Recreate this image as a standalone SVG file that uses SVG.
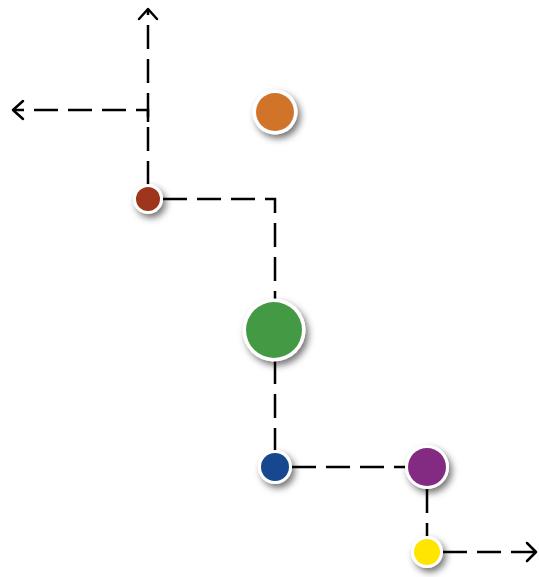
<svg xmlns="http://www.w3.org/2000/svg" width="539" height="577" viewBox="0 0 539 577">
<style>
.c{fill:none;stroke:#000;stroke-width:2.5;stroke-dasharray:24 10}
.a{fill:none;stroke:#000;stroke-width:2.5;stroke-linecap:round;stroke-linejoin:round}
.ring{fill:#fff;filter:url(#sh)}
</style>
<defs>
<filter id="sh" x="-50%" y="-50%" width="200%" height="200%">
<feDropShadow dx="3" dy="4" stdDeviation="3.5" flood-color="#000" flood-opacity="0.55"/>
</filter>
</defs>
<rect width="539" height="577" fill="#fff"/>
<g id="connectors">
<path class="c" d="M148,185 L148,10"/>
<path class="a" d="M139,19 L148,9 L157,19"/>
<path class="c" d="M148,122 L148,110 L13,110"/>
<path class="a" d="M23,101 L13,110 L23,119"/>
<path class="c" d="M163,199 L275,199 L275,300"/>
<path class="c" d="M275,360 L275,452"/>
<path class="c" d="M292,467 L406,467"/>
<path class="c" d="M427,489 L427,537"/>
<path class="c" d="M443,552 L535,552"/>
<path class="a" d="M527,543 L536,552 L527,561"/>
</g>
<g id="orange"><circle class="ring" cx="275" cy="112" r="22.5"/><circle cx="275" cy="112" r="19" fill="#D0742A"/></g>
<g id="red"><circle class="ring" cx="148" cy="199" r="15"/><circle cx="148" cy="199" r="12" fill="#9E361E"/></g>
<g id="green"><circle class="ring" cx="274" cy="330" r="31.5"/><circle cx="274" cy="330" r="28" fill="#449A44"/></g>
<g id="blue"><circle class="ring" cx="275" cy="467" r="17"/><circle cx="275" cy="467" r="14" fill="#17478F"/></g>
<g id="purple"><circle class="ring" cx="427" cy="467" r="22"/><circle cx="427" cy="467" r="19" fill="#832A83"/></g>
<g id="yellow"><circle class="ring" cx="427" cy="552" r="16"/><circle cx="427" cy="552" r="13" fill="#FFE500"/></g>
</svg>
